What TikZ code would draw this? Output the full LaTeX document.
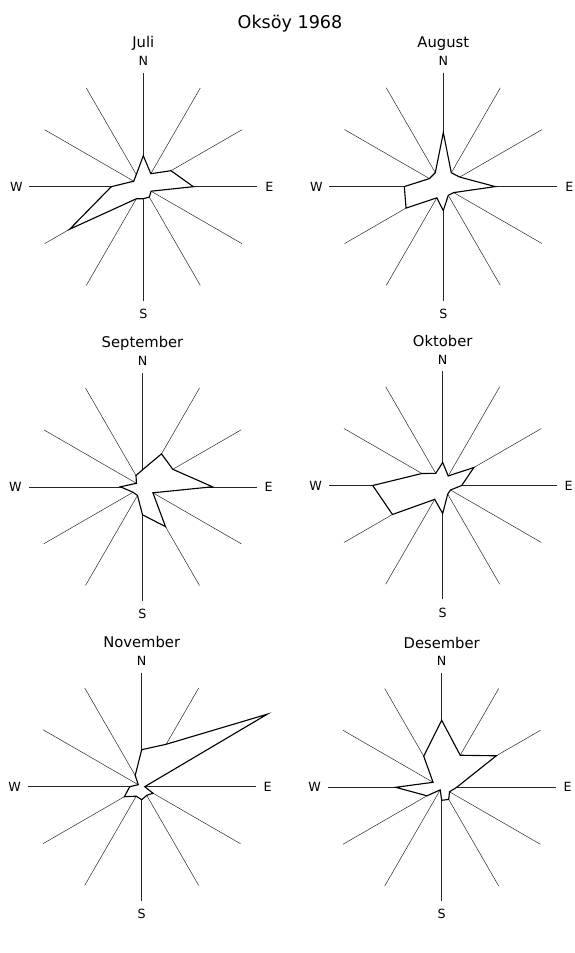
\documentclass[tikz,border=0pt]{standalone}
\usepackage{fontspec}
\setmainfont{DejaVu Sans}
\usepackage{tikz}
\usetikzlibrary{positioning,calc}

\begin{document}
\begin{tikzpicture}[x=0.025cm,y=0.025cm,
  spoke/.style={line width=0.35pt,black!85},
  rose/.style={draw,line width=0.8pt,fill=white,line join=miter},
  dir/.style={font=\fontsize{9}{9}\selectfont,inner sep=0pt},
  month/.style={font=\fontsize{10.5}{11}\selectfont,inner sep=0pt,anchor=base}]
  \useasboundingbox (0,0) rectangle (574,953);
  \node (title) at (290,929) {\fontsize{12.5}{13}\selectfont Oksöy 1968};
  \foreach \m/\cx/\cy/\radii in {
      Juli/143.3/766.3/{31,15,32,50,9,12,12,14,85,32,11,14},
      August/443.3/766.4/{54,16,19,52,12,10,24,13,43,39,16,16},
      September/142.5/466.2/{17,38,35,70,12,46,28,10,11,22,7,13},
      Oktober/442.7/467.5/{23,11,36,19,9,10,28,16,58,70,24,14},
      November/141.7/166.3/{37,49,145,3,13,10,13,11,20,12,4,13},
      Desember/441.7/165.7/{67,37,63,15,9,14,13,3,17,46,10,36}} {
    \coordinate (\m) at (\cx,\cy);
    \foreach \a in {0,30,...,330}
      \draw[spoke] (\m) -- ++(\a:114);
    \foreach \r [count=\i from 0] in \radii
      \coordinate (\m-\i) at ($(\m)+(90-30*\i:\r)$);
    \path[rose] (\m-0) \foreach \i in {1,...,11} {-- (\m-\i)} -- cycle;
    \node[dir] (\m-N) at ($(\m)+(0,126)$)  {N};
    \node[dir] (\m-S) at ($(\m)+(0,-127)$) {S};
    \node[dir] (\m-E) at ($(\m)+(126,0)$)  {E};
    \node[dir] (\m-W) at ($(\m)+(-127,0)$) {W};
    \node[month] (\m-name) at ($(\m)+(0,139)$) {\m};
  }
\end{tikzpicture}
\end{document}
